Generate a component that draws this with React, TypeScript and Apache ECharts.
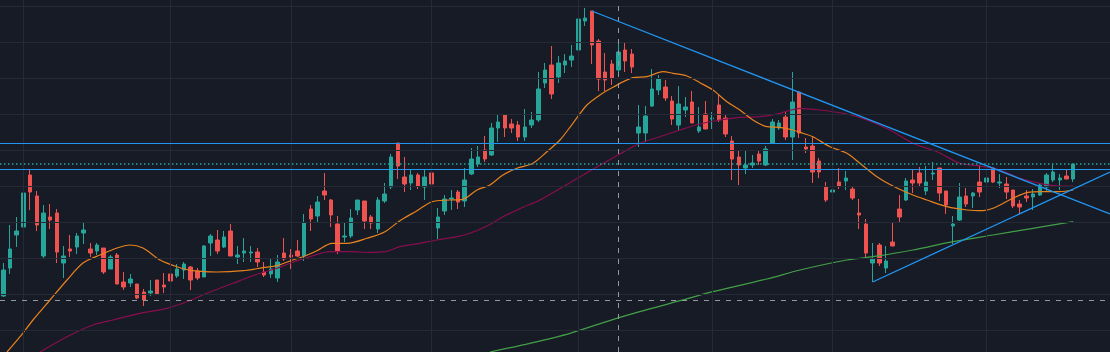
import React, { useEffect, useRef } from "react";
import * as echarts from "echarts";

// ---- data (price units; chart has no visible axis labels) ----
// candles: [open, close, low, high]
const candles: number[][] = [
  [214,240,213,247],[242,261,236,285],[275,279,263,293],[283,317,282,318],[335,318,300,341],
  [314,285,279,319],[254,297,251,305],[293,290,281,306],[297,258,247,301],[247,254,232,264],
  [261,259,253,275],[263,274,256,277],[277,280,266,287],[261,257,253,267],[259,265,255,267],
  [262,238,236,262],[241,253,241,255],[255,226,226,257],[228,223,220,238],[227,231,223,236],
  [226,212,211,226],[218,210,204,221],[217,219,214,230],[230,216,215,230],[225,223,217,237],
  [236,229,219,238],[234,241,232,246],[240,246,231,248],[243,230,220,244],[239,232,230,242],
  [233,264,233,265],[267,274,254,276],[270,259,256,280],[263,273,262,279],[279,254,254,286],
  [253,255,246,264],[257,259,248,272],[257,258,248,264],[258,248,243,262],[238,235,233,248],
  [236,241,232,251],[232,248,228,255],[257,251,249,272],[255,253,241,261],[259,254,253,270],
  [254,287,249,296],[301,291,279,305],[294,308,287,314],[319,315,310,337],[310,295,283,311],
  [286,259,256,294],[273,274,268,288],[274,292,272,301],[300,310,295,310],[309,289,281,309],
  [293,287,281,295],[281,310,277,313],[309,316,307,327],[323,353,321,356],[367,344,331,367],
  [333,326,318,353],[327,335,320,340],[335,324,321,337],[323,333,310,340],[337,326,319,338],
  [282,293,271,302],[299,311,295,315],[311,312,300,320],[318,308,301,320],[309,330,303,342],
  [336,351,335,362],[346,353,343,364],[360,351,348,374],[355,382,354,387],[382,388,368,395],
  [395,382,373,395],[386,382,377,391],[385,373,369,389],[373,383,369,401],[385,390,382,398],
  [390,421,388,438],[427,440,422,447],[445,416,411,464],[433,447,427,454],[445,449,437,456],
  [450,454,443,465],[460,491,454,493],[489,492,484,502],[499,465,446,499],[469,431,419,471],
  [438,430,419,457],[446,432,425,450],[440,458,433,468],[460,449,438,468],[456,443,437,461],
  [377,383,363,405],[377,394,368,404],[404,421,403,441],[420,431,415,435],[423,412,409,430],
  [409,391,385,414],[385,406,380,424],[400,403,393,413],[408,387,387,419],[379,383,377,403],
  [396,381,381,409],[391,392,381,398],[405,390,388,415],[392,376,373,395],[369,351,330,374],
  [353,345,325,360],[342,345,336,360],[345,347,342,355],[356,349,345,359],[345,361,344,364],
  [367,388,367,391],[382,387,380,390],[393,373,370,399],[373,408,350,438],[418,377,372,419],
  [363,361,357,372],[364,338,327,374],[349,338,332,352],[323,310,308,328],[318,320,310,329],
  [328,324,321,342],[329,332,320,339],[321,312,310,324],[297,295,281,311],[286,257,253,291],
  [247,251,228,267],[265,247,244,267],[242,249,237,264],[268,264,264,288],[301,293,288,315],
  [310,329,309,332],[330,327,317,340],[337,327,323,343],[319,328,315,344],[336,337,330,348],
  [342,317,309,342],[319,305,296,319],[284,286,266,294],[290,313,289,327],[314,306,303,322],
  [314,317,302,318],[328,318,313,345],[328,332,321,334],[342,328,327,342],[327,328,322,336],
  [326,318,311,333],[320,304,302,320],[306,303,296,310],[314,312,308,320],[313,316,300,321],
  [315,325,314,327],[323,335,318,337],[330,338,328,346],[330,332,320,336],[334,331,331,341],
  [331,346,328,346],
];

const TOTAL_SLOTS = 166; // candles + empty space on the right
const categories: string[] = Array.from({ length: TOTAL_SLOTS }, (_, i) => `D${i + 1}`);

// moving averages: [bar index, value]
const maFast: number[][] = [
  [0.55,158],[2.5,173.3],[4.43,190],[6.98,210],[9.52,230],[11.91,247],[14.45,255],[17.0,262],
  [18.94,265],[20.88,262],[23.43,250],[25.97,243.3],[28.36,239.3],[31.95,238],[35.84,239.3],
  [38.83,242.3],[40.92,244.3],[42.86,249],[44.81,253.3],[46.9,259.3],[49.15,266.7],[51.39,266.7],
  [54.38,271.7],[57.07,278.3],[59.31,289.3],[61.86,299.3],[64.1,308.3],[66.79,310],[68.73,310.7],
  [70.83,320],[72.77,325],[74.72,335],[76.81,341.7],[79.2,346.7],[81.3,358.3],[83.24,370],
  [85.18,386.7],[87.27,405],[89.22,415],[91.16,422.7],[94.15,432.3],[96.25,433.3],[98.64,438.3],
  [100.14,436.7],[102.23,434],[104.17,427.3],[106.12,420],[108.21,408.3],[110.15,400],[112.1,390],
  [114.19,383.3],[116.14,382.7],[118.08,380],[119.58,376.7],[121.07,373.3],[123.61,363.3],
  [126.15,356.7],[128.1,346.7],[130.64,333.3],[133.03,324],[136.02,315],[138.11,310],[141.1,303.3],
  [144.1,300],[146.5,299.3],[148.0,301.7],[150.97,311.7],[153.07,317.3],[155.46,318.3],[158.0,318.3],
  [160,320],
];
const maMid: number[][] = [
  [5.48,158],[9.52,173.3],[13.41,185],[16.4,190],[20.44,196.7],[24.47,201.7],[27.46,208.3],
  [30.45,216.7],[34.34,226.7],[38.38,236.7],[40.92,241.7],[42.86,246.7],[45.86,253.3],[48.85,258.3],
  [51.84,258.3],[54.83,257.7],[57.07,258.3],[59.31,263.3],[62.3,266.7],[64.85,270],[67.84,273.3],
  [69.78,276.7],[72.32,284],[74.72,293.3],[77.71,302.7],[80.25,310],[84.74,327.3],[88.17,340.7],
  [92.21,356],[95.2,366.7],[98.19,373.3],[101.18,380],[104.17,386],[107.17,390],[110.15,392.7],
  [113.14,393.3],[116.14,396.7],[119.13,401.7],[122.12,400],[126.15,396],[129.15,390],[132.58,380],
  [136.02,366.7],[139.62,358.3],[143.05,346.7],[146.04,344],[149.03,340],[152.02,331.7],
  [155.01,326.7],[158.0,324],[160,324],
];
const maSlow: number[][] = [
  [72.77,158],[78.75,166.7],[84.74,176.7],[92.21,192.7],[101.18,209.3],[106.12,218.3],
  [114.19,231],[119.13,240],[126.15,250],[130.04,253.3],[136.02,260],[142.0,268.3],[147.98,275],
  [153.97,281.7],[160,288.3],
];

// drawn trend lines: [bar index, price]
const trendDown: number[][] = [[88, 499], [165.5, 296]];
const trendUp: number[][] = [[130, 228], [165.5, 338]];

// horizontal levels
const levelLines: number[] = [367, 341];
const lastPrice = 346;
const crosshairPrice = 210;
const crosshairIndex = 92;

// grid
const priceGridLines: number[] = [180, 216, 252, 288, 324, 360, 396, 432, 468, 504];
const monthStartIndex: number[] = [3, 25, 43, 64, 86, 106, 124, 147];

const Y_MIN = 158;
const Y_MAX = 510;

const UP = "#26a69a";
const DOWN = "#ef5350";
const BG = "#171b26";
const GRID = "#262a36";

export default function App() {
  const ref = useRef<HTMLDivElement>(null);
  useEffect(() => {
    if (!ref.current) return;
    const chart = echarts.init(ref.current, undefined, { renderer: "svg" });
    const lineBase = (name: string, data: number[][], color: string, z: number) => ({
      name,
      type: "line",
      xAxisIndex: 1,
      yAxisIndex: 0,
      data,
      showSymbol: false,
      symbol: "none",
      smooth: 0.3,
      clip: false,
      z,
      lineStyle: { color, width: 1.2 },
      silent: true,
    });
    const markLineSeries = (name: string, z: number, data: any[], lineStyle: any) => ({
      name,
      type: "line",
      xAxisIndex: 1,
      yAxisIndex: 0,
      data: [],
      z,
      silent: true,
      markLine: {
        silent: true,
        symbol: ["none", "none"],
        label: { show: false },
        animation: false,
        lineStyle,
        data,
      },
    });
    chart.setOption({
      animation: false,
      backgroundColor: BG,
      grid: { left: 0, right: 0, top: 0, bottom: 0 },
      xAxis: [
        {
          type: "category",
          data: categories,
          boundaryGap: true,
          show: false,
        },
        {
          type: "value",
          min: -0.5,
          max: TOTAL_SLOTS - 0.5,
          show: false,
        },
      ],
      yAxis: [
        { type: "value", min: Y_MIN, max: Y_MAX, show: false, splitLine: { show: false } },
      ],
      series: [
        markLineSeries(
          "hgrid",
          0,
          priceGridLines.map((v) => ({ yAxis: v })),
          { color: GRID, width: 1, type: "solid" }
        ),
        markLineSeries(
          "vgrid",
          0,
          monthStartIndex.map((v) => ({ xAxis: v })),
          { color: GRID, width: 1, type: "solid" }
        ),
        {
          name: "price",
          type: "candlestick",
          xAxisIndex: 0,
          yAxisIndex: 0,
          data: candles,
          barWidth: 4,
          z: 2,
          itemStyle: {
            color: UP,
            color0: DOWN,
            borderColor: UP,
            borderColor0: DOWN,
            borderWidth: 1,
          },
        },
        lineBase("MA slow", maSlow, "#43a047", 3),
        lineBase("MA mid", maMid, "#880e4f", 3),
        lineBase("MA fast", maFast, "#e8821e", 3),
        markLineSeries(
          "levels",
          4,
          levelLines.map((v) => ({ yAxis: v })),
          { color: "#2196f3", width: 1.2, type: "solid" }
        ),
        markLineSeries(
          "last",
          4,
          [{ yAxis: lastPrice }],
          { color: UP, width: 1.5, type: [1.5, 2.5] }
        ),
        {
          name: "trend down",
          type: "line",
          xAxisIndex: 1,
          yAxisIndex: 0,
          data: trendDown,
          showSymbol: false,
          symbol: "none",
          clip: false,
          z: 5,
          silent: true,
          lineStyle: { color: "#2196f3", width: 1.3 },
        },
        {
          name: "trend up",
          type: "line",
          xAxisIndex: 1,
          yAxisIndex: 0,
          data: trendUp,
          showSymbol: false,
          symbol: "none",
          clip: false,
          z: 5,
          silent: true,
          lineStyle: { color: "#2196f3", width: 1.3 },
        },
        markLineSeries(
          "crosshair",
          6,
          [{ yAxis: crosshairPrice }, { xAxis: crosshairIndex }],
          { color: "#9598a1", width: 1, type: [5, 6] }
        ),
      ],
    });
    return () => chart.dispose();
  }, []);
  return (
    <div
      ref={ref}
      style={{ position: "fixed", left: 0, top: 0, width: 1110, height: 352, background: BG }}
    />
  );
}
